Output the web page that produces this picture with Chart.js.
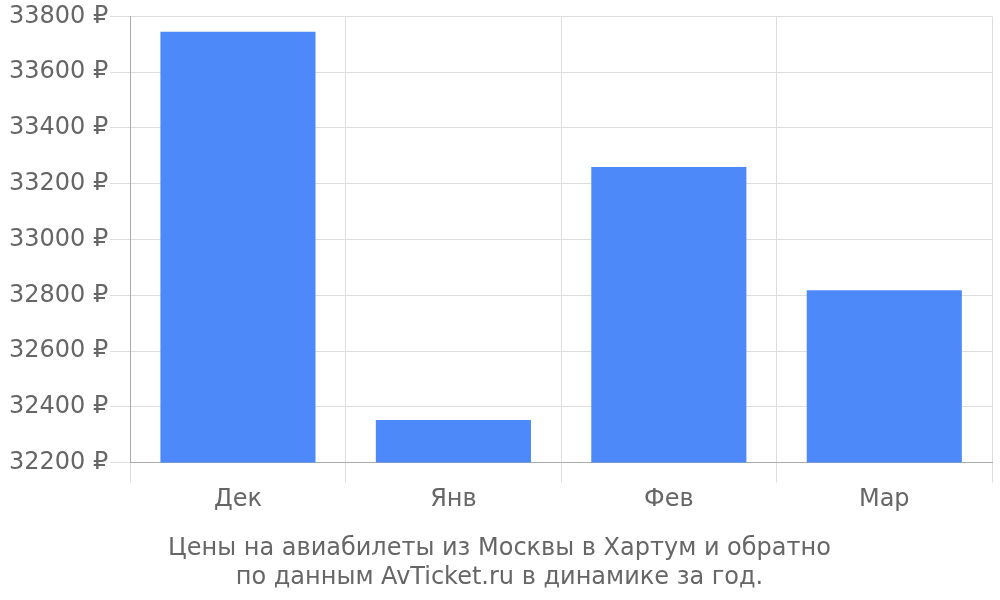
<!DOCTYPE html>
<html><head><meta charset="utf-8">
<script src="https://cdn.jsdelivr.net/npm/chart.js@4/dist/chart.umd.min.js"></script>
<style>html,body{margin:0;padding:0;background:#fff}#wrap{width:1000px;height:600px}</style>
</head><body><div id="wrap"><canvas id="c"></canvas></div>
<script>
const categories = ['Дек', 'Янв', 'Фев', 'Мар'];
const prices = [33745, 32353, 33260, 32818];
const titleLines = ['Цены на авиабилеты из Москвы в Хартум и обратно', 'по данным AvTicket.ru в динамике за год.'];

Chart.defaults.font.family = '"DejaVu Sans", sans-serif';
Chart.defaults.color = '#666';
new Chart(document.getElementById('c'), {
  type: 'bar',
  data: { labels: categories, datasets: [{ data: prices, backgroundColor: '#4D89F9' }] },
  options: {
    responsive: true, maintainAspectRatio: false, animation: false,
    layout: { padding: { left: 7, right: 8, top: -2, bottom: 0 } },
    plugins: {
      legend: { display: false },
      tooltip: { enabled: false },
      title: { display: true, position: 'bottom', text: titleLines, font: { size: 24, weight: 'normal', lineHeight: 1.2 }, color: '#666', padding: { top: 17, bottom: 8 } }
    },
    scales: {
      x: { grid: { color: '#ddd', tickLength: 20 }, border: { color: '#aaa' }, ticks: { font: { size: 24 }, color: '#666' } },
      y: { min: 32200, max: 33800, grid: { color: '#ddd', tickLength: 20 }, border: { color: '#aaa' },
           ticks: { stepSize: 200, font: { size: 24 }, color: '#666', padding: 2, callback: v => v + ' ₽' } }
    }
  }
});
</script></body></html>
